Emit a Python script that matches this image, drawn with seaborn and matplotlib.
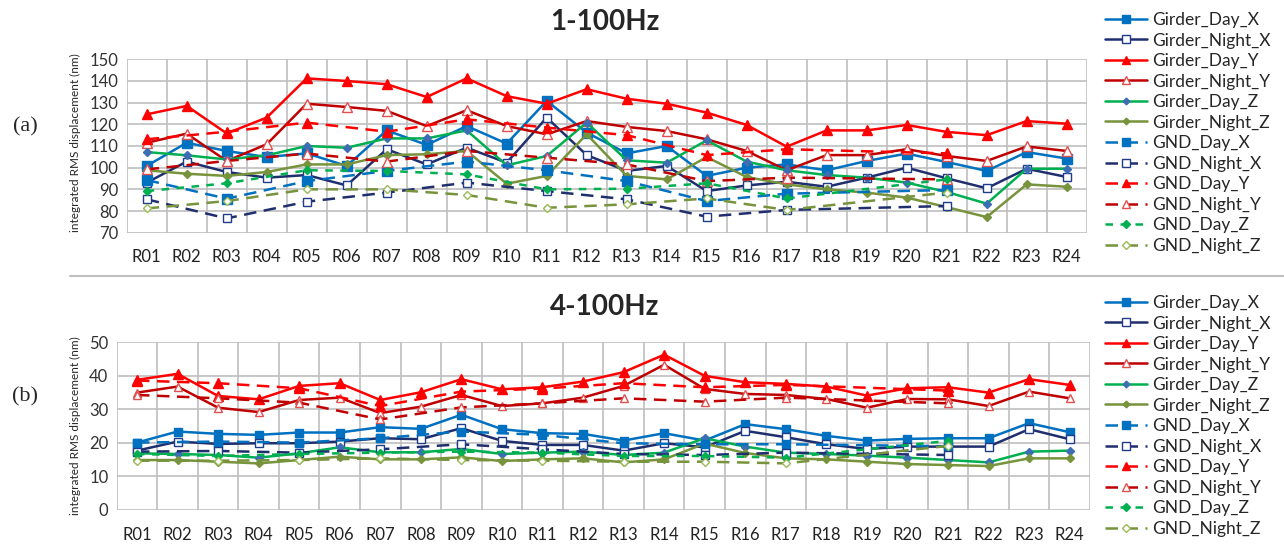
import numpy as np
import pandas as pd
import matplotlib
matplotlib.use("Agg")
import matplotlib.pyplot as plt
from matplotlib.lines import Line2D
import seaborn as sns

sns.set_theme(style="white")
plt.rcParams['font.family'] = ['Lato', 'DejaVu Sans']

categories = [f"R{i:02d}" for i in range(1, 25)]
series_names = ["Girder_Day_X", "Girder_Night_X", "Girder_Day_Y", "Girder_Night_Y",
                "Girder_Day_Z", "Girder_Night_Z", "GND_Day_X", "GND_Night_X",
                "GND_Day_Y", "GND_Night_Y", "GND_Day_Z", "GND_Night_Z"]
gnd_cats = ["R01", "R03", "R05", "R07", "R09", "R11", "R13", "R15", "R17", "R21"]

# ---- panel (a) 1-100Hz ----
a_girder_day_x = [100.8,111.5,107.7,104.9,106.6,100.8,117.2,110.5,119.2,111.1,130.8,116.2,106.6,110.0,96.2,100.0,101.5,98.8,103.1,106.5,102.6,98.5,107.2,104.2]
a_girder_night_x = [93.1,102.8,98.0,95.4,96.6,91.8,108.5,101.5,109.2,102.3,123.1,105.8,98.5,100.8,89.2,91.8,93.5,91.2,95.4,100.0,95.1,90.5,99.5,95.7]
a_girder_day_y = [124.6,128.5,115.8,123.1,141.2,140.0,138.5,132.6,141.2,133.0,129.5,136.2,131.8,129.5,125.4,119.7,109.7,117.2,117.2,119.7,116.5,115.0,121.5,120.3]
a_girder_night_y = [111.5,115.7,103.1,110.8,129.5,128.0,126.2,119.2,126.5,119.2,115.4,121.5,118.8,116.9,113.1,107.7,98.8,105.8,105.8,108.5,105.4,103.1,109.8,107.7]
a_girder_day_z = [107.2,105.7,103.8,105.7,110.0,109.2,113.5,113.5,117.2,101.1,105.4,120.8,103.4,102.3,112.6,102.8,98.8,96.6,95.4,93.1,88.8,83.4,99.5,99.5]
a_girder_night_z = [98.8,97.2,96.2,98.0,101.5,101.5,105.8,106.2,107.7,92.6,96.2,115.4,96.2,94.6,104.9,95.7,92.3,90.0,88.5,86.2,81.8,77.2,92.3,91.2]
a_gnd_day_x = [94.3,85.7,93.8,98.5,102.8,98.8,93.8,84.6,88.0,89.7]
a_gnd_night_x = [85.4,76.6,84.3,88.5,93.1,89.2,85.4,77.4,80.5,82.3]
a_gnd_day_y = [113.1,116.6,120.8,116.6,122.3,118.5,115.0,105.8,108.5,106.6]
a_gnd_night_y = [99.2,103.1,106.5,102.8,107.7,104.6,101.5,93.8,95.4,94.6]
a_gnd_day_z = [89.2,92.8,98.8,98.5,96.9,90.0,90.3,92.8,85.8,94.6]
a_gnd_night_z = [81.2,84.6,90.0,90.0,87.4,81.5,83.1,85.8,80.5,88.5]

# ---- panel (b) 4-100Hz ----
b_girder_day_x = [20.1,23.4,22.7,22.4,23.1,23.1,24.7,24.2,28.4,24.1,22.9,22.7,20.7,22.9,20.7,25.6,24.1,22.1,20.7,21.2,21.4,21.4,25.9,23.2]
b_girder_night_x = [17.7,20.4,19.7,19.9,19.9,20.4,21.4,21.1,24.4,20.6,19.4,19.4,17.7,19.9,18.7,23.6,21.7,19.6,18.2,18.9,18.9,18.9,24.1,21.1]
b_girder_day_y = [38.8,40.6,34.0,33.0,37.0,37.8,32.8,35.1,39.0,36.0,36.6,38.3,41.1,46.3,40.0,38.1,37.6,36.8,34.1,36.3,36.6,35.0,39.0,37.3]
b_girder_night_y = [35.0,36.8,30.5,29.2,32.8,33.5,28.9,30.8,34.3,31.0,31.8,33.5,37.0,43.3,36.1,34.6,34.3,33.1,30.5,33.1,33.0,31.0,35.3,33.3]
b_girder_day_z = [16.9,16.7,16.4,15.6,16.9,18.7,17.2,17.2,18.2,16.7,17.1,17.4,16.4,17.1,21.4,18.9,17.1,16.7,16.2,15.6,14.9,14.2,17.4,17.7]
b_girder_night_z = [14.9,14.9,14.4,13.9,14.9,15.9,15.1,15.1,15.7,14.6,15.1,15.4,14.2,15.1,19.8,17.0,15.4,15.1,14.4,13.7,13.4,13.1,15.4,15.4]
b_gnd_day_x = [20.1,20.4,20.1,21.4,23.4,22.4,19.9,19.6,19.6,19.0]
b_gnd_night_x = [17.4,17.6,17.1,18.1,19.6,18.1,16.7,16.4,17.1,16.4]
b_gnd_day_y = [38.6,37.8,36.3,31.0,35.3,36.2,37.8,36.6,37.3,35.6]
b_gnd_night_y = [34.3,33.3,32.0,27.0,30.6,31.8,33.3,32.3,33.5,31.8]
b_gnd_day_z = [16.7,16.1,16.7,17.1,17.4,17.1,16.1,16.1,15.6,20.6]
b_gnd_night_z = [14.7,14.7,14.9,15.4,14.9,14.7,14.4,14.4,13.9,19.1]

panel_a = [a_girder_day_x, a_girder_night_x, a_girder_day_y, a_girder_night_y, a_girder_day_z, a_girder_night_z,
           a_gnd_day_x, a_gnd_night_x, a_gnd_day_y, a_gnd_night_y, a_gnd_day_z, a_gnd_night_z]
panel_b = [b_girder_day_x, b_girder_night_x, b_girder_day_y, b_girder_night_y, b_girder_day_z, b_girder_night_z,
           b_gnd_day_x, b_gnd_night_x, b_gnd_day_y, b_gnd_night_y, b_gnd_day_z, b_gnd_night_z]

# styles: (line color, marker, markersize, face, edge, linestyle)
styles = [
    ("#0070C0", "s", 6.5, "#0070C0", "#0070C0", "-"),
    ("#1F2F6E", "s", 6.0, "white", "#1F3C88", "-"),
    ("#FF0000", "^", 7.5, "#FF0000", "#FF0000", "-"),
    ("#C00000", "^", 7.0, "white", "#E05050", "-"),
    ("#00B050", "D", 4.0, "#3C6EB4", "#3C6EB4", "-"),
    ("#77933C", "D", 4.0, "#77933C", "#77933C", "-"),
    ("#0070C0", "s", 6.5, "#0070C0", "#0070C0", (0, (5, 3))),
    ("#1F2F6E", "s", 6.0, "white", "#1F3C88", (0, (5, 3))),
    ("#FF0000", "^", 7.5, "#FF0000", "#FF0000", (0, (5, 3))),
    ("#C00000", "^", 7.0, "white", "#E05050", (0, (5, 3))),
    ("#00B050", "D", 4.5, "#00B050", "#00B050", (0, (3, 3))),
    ("#77933C", "D", 4.5, "white", "#9BBB59", (0, (5, 3))),
]

W, H = 1284, 547
fig = plt.figure(figsize=(W / 100, H / 100), dpi=100)

def fx(px):
    return px / W

def fy(py):
    return 1 - py / H

ax_a = fig.add_axes([fx(126.7), fy(232.7), fx(1086.7) - fx(126.7), fy(59.3) - fy(232.7)])
ax_b = fig.add_axes([fx(116.7), fy(510.0), fx(1089.9) - fx(116.7), fy(342.3) - fy(510.0)])

pos = {c: i for i, c in enumerate(categories)}

def draw(ax, values, ylim, yticks, msscale):
    handles = []
    for name, vals, st in zip(series_names, values, styles):
        cats = categories if name.startswith("Girder") else gnd_cats
        df = pd.DataFrame({"x": [pos[c] for c in cats], "y": vals})
        color, mk, ms, fc, ec, ls = st
        sns.lineplot(data=df, x="x", y="y", ax=ax, color=color, linestyle=ls,
                     linewidth=1.8, marker=mk, markersize=ms * msscale, markerfacecolor=fc,
                     markeredgecolor=ec, markeredgewidth=1.0, sort=False,
                     estimator=None, zorder=3)
        handles.append(Line2D([], [], color=color, linestyle=ls, linewidth=1.8,
                              marker=mk, markersize=ms * 0.85, markerfacecolor=fc,
                              markeredgecolor=ec, label=name))
    ax.set_xlim(-0.5, 23.5)
    ax.set_ylim(*ylim)
    ax.set_yticks(yticks)
    ax.set_yticklabels([str(t) for t in yticks], fontsize=12, color="#333333")
    ax.set_xticks(range(24))
    ax.set_xticklabels(categories, fontsize=12, color="#222222")
    ax.tick_params(axis="both", length=0, pad=6)
    ax.tick_params(axis="x", pad=12)
    for t in yticks:
        ax.axhline(t, color="#BFBFBF", linewidth=1.2, zorder=1)
    for k in range(25):
        ax.axvline(k - 0.5, color="#BFBFBF", linewidth=1.2, zorder=1)
    for sp in ax.spines.values():
        sp.set_visible(False)
    ax.set_xlabel("")
    ax.set_ylabel("")
    return handles

h_a = draw(ax_a, panel_a, (70, 150), list(range(70, 151, 10)), 1.0)
h_b = draw(ax_b, panel_b, (0, 50), list(range(0, 51, 10)), 0.9)

leg_kw = dict(frameon=False, fontsize=12.5, labelspacing=0.26, handlelength=2.4,
              handletextpad=0.3, borderaxespad=0, borderpad=0, loc="upper left")
fig.legend(handles=h_a, bbox_to_anchor=(fx(1105), fy(12)), **leg_kw)
fig.legend(handles=h_b, bbox_to_anchor=(fx(1105), fy(295)), **leg_kw)

fig.text(fx(605), fy(22), "1-100Hz", ha="center", va="center", fontsize=20, fontweight="bold")
fig.text(fx(605), fy(307), "4-100Hz", ha="center", va="center", fontsize=20, fontweight="bold")
fig.text(fx(75), fy(143), "integrated RMS displacement (nm)", rotation=90, ha="center", va="center", fontsize=8.5)
fig.text(fx(75), fy(426), "integrated RMS displacement (nm)", rotation=90, ha="center", va="center", fontsize=8.5)
fig.text(fx(25), fy(127), "(a)", ha="center", va="center", fontsize=16, family="Liberation Serif")
fig.text(fx(25), fy(397), "(b)", ha="center", va="center", fontsize=16, family="Liberation Serif")

fig.add_artist(Line2D([fx(70), 1.0], [fy(276), fy(276)], color="#BFBFBF", linewidth=1.5))

fig.savefig("out.png", dpi=100)
